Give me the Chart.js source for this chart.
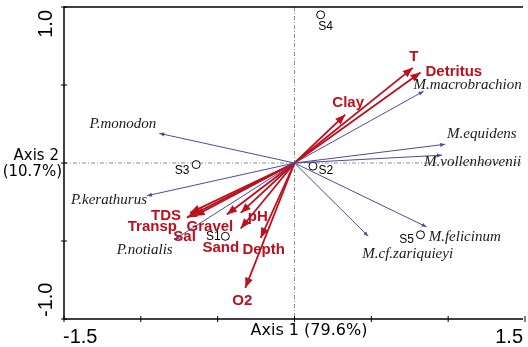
<!DOCTYPE html>
<html lang="en">
<head>
<meta charset="UTF-8">
<title>Ordination biplot</title>
<script src="https://cdn.jsdelivr.net/npm/chart.js"></script>
<style>
    body { margin: 0; background: #fff; }
    #wrap { width: 528px; height: 347px; }
</style>
</head>
<body>
<div id="wrap"><canvas id="biplot" width="528" height="347"></canvas></div>
<script>
// environmental variables (red arrows)
const envNames = ['T', 'Detritus', 'Clay', 'TDS', 'Transp', 'Sal', 'Gravel', 'pH', 'Sand', 'Depth', 'O2'];
const envX = [0.77, 0.82, 0.33, -0.68, -0.70, -0.65, -0.44, -0.35, -0.35, -0.22, -0.32];
const envY = [0.61, 0.58, 0.31, -0.32, -0.35, -0.34, -0.33, -0.32, -0.42, -0.48, -0.80];

// species (blue arrows)
const speciesNames = ['P.monodon', 'P.kerathurus', 'P.notialis', 'M.macrobrachion', 'M.equidens', 'M.vollenhovenii', 'M.felicinum', 'M.cf.zariquieyi'];
const speciesX = [-0.88, -0.96, -0.78, 0.84, 0.98, 0.96, 0.86, 0.48];
const speciesY = [0.19, -0.21, -0.49, 0.46, 0.12, 0.05, -0.41, -0.47];

// sampling sites
const siteNames = ['S4', 'S3', 'S2', 'S1', 'S5'];
const siteX = [0.17, -0.64, 0.12, -0.45, 0.82];
const siteY = [0.95, -0.01, -0.02, -0.47, -0.46];

// axes
const xTicks = [-1.5, -1.0, -0.5, 0, 0.5, 1.0, 1.5];
const yTicks = [-1.0, -0.5, 0, 0.5, 1.0];
const xTickLabels = ['-1.5', '1.5'];
const yTickLabels = ['1.0', '-1.0'];
const xTitle = 'Axis 1 (79.6%)';
const yTitle = ['Axis 2', '(10.7%)'];

// label placement: pixel offset from arrow tip / point, and text alignment
const envLabelPos = [[1, -11, 'center'], [5, -1, 'left'], [3, -12, 'center'], [-9, 3, 'right'],
    [-10, 9, 'right'], [-10, 21, 'center'], [-17, 12, 'center'], [7, 4, 'left'],
    [-20, 19, 'center'], [3, 12, 'center'], [-3, 13, 'center']];
const speciesLabelPos = [[-3, -9, 'right'], [0, 4, 'right'], [-2, 11, 'right'], [-10, -6, 'left'],
    [2, -10, 'left'], [-18, 7, 'left'], [2, 10, 'left'], [-6, 18, 'left']];
const siteLabelPos = [[5, 12], [-14, 6], [13, 5], [-12, 0], [-14, 5]];

const RED = '#bd0f1d';
const BLUE = '#4c4c98';

function arrowSet(names, xs, ys, color, width) {
    return names.map((n, i) => ({
        label: n,
        type: 'line',
        data: [{ x: 0, y: 0 }, { x: xs[i], y: ys[i] }],
        borderColor: color,
        borderWidth: width,
        pointRadius: 0,
        fill: false,
        arrowKind: color === RED ? 'env' : 'species'
    }));
}

const datasets = [
    ...arrowSet(speciesNames, speciesX, speciesY, BLUE, 1),
    ...arrowSet(envNames, envX, envY, RED, 1.8),
    {
        label: 'sites',
        data: siteX.map((x, i) => ({ x: x, y: siteY[i] })),
        pointStyle: 'circle',
        pointRadius: 4,
        pointBackgroundColor: '#fff',
        pointBorderColor: '#000',
        pointBorderWidth: 1,
        showLine: false
    }
];

function drawHead(ctx, x0, y0, x1, y1, len, half, color) {
    const a = Math.atan2(y1 - y0, x1 - x0);
    ctx.save();
    ctx.fillStyle = color;
    ctx.beginPath();
    ctx.moveTo(x1, y1);
    ctx.lineTo(x1 - len * Math.cos(a) + half * Math.sin(a), y1 - len * Math.sin(a) - half * Math.cos(a));
    ctx.lineTo(x1 - len * Math.cos(a) - half * Math.sin(a), y1 - len * Math.sin(a) + half * Math.cos(a));
    ctx.closePath();
    ctx.fill();
    ctx.restore();
}

const biplotDecor = {
    id: 'biplotDecor',
    beforeDatasetsDraw(chart) {
        const { ctx, chartArea: a, scales: { x, y } } = chart;
        const x0 = x.getPixelForValue(0), y0 = y.getPixelForValue(0);
        ctx.save();
        ctx.strokeStyle = '#8c8c8c';
        ctx.lineWidth = 1;
        ctx.setLineDash([4, 2, 1, 2]);
        ctx.beginPath();
        ctx.moveTo(x0, a.top); ctx.lineTo(x0, a.bottom);
        ctx.moveTo(a.left, y0); ctx.lineTo(a.right, y0);
        ctx.stroke();
        ctx.restore();
    },
    afterDatasetsDraw(chart) {
        const { ctx, chartArea: a, scales: { x, y } } = chart;
        const ox = x.getPixelForValue(0), oy = y.getPixelForValue(0);

        // arrowheads
        chart.data.datasets.forEach(ds => {
            if (!ds.arrowKind) return;
            const tx = x.getPixelForValue(ds.data[1].x), ty = y.getPixelForValue(ds.data[1].y);
            if (ds.arrowKind === 'env') drawHead(ctx, ox, oy, tx, ty, 10, 4, RED);
            else drawHead(ctx, ox, oy, tx, ty, 5, 2, BLUE);
        });

        ctx.save();
        ctx.textBaseline = 'middle';

        // species labels
        ctx.fillStyle = '#1a1a1a';
        ctx.font = 'italic 15px "Liberation Serif", "Times New Roman", serif';
        speciesNames.forEach((n, i) => {
            const p = speciesLabelPos[i];
            ctx.textAlign = p[2];
            ctx.fillText(n, x.getPixelForValue(speciesX[i]) + p[0], y.getPixelForValue(speciesY[i]) + p[1]);
        });

        // environment labels
        ctx.fillStyle = RED;
        ctx.font = 'bold 15px "Liberation Sans", Arial, sans-serif';
        envNames.forEach((n, i) => {
            const p = envLabelPos[i];
            ctx.textAlign = p[2];
            ctx.fillText(n, x.getPixelForValue(envX[i]) + p[0], y.getPixelForValue(envY[i]) + p[1]);
        });

        // site labels
        ctx.fillStyle = '#000';
        ctx.font = '12px "Liberation Sans", Arial, sans-serif';
        ctx.textAlign = 'center';
        siteNames.forEach((n, i) => {
            const p = siteLabelPos[i];
            ctx.fillText(n, x.getPixelForValue(siteX[i]) + p[0], y.getPixelForValue(siteY[i]) + p[1]);
        });

        // frame: left, bottom, top
        ctx.strokeStyle = '#000';
        ctx.lineWidth = 1.5;
        ctx.beginPath();
        ctx.moveTo(a.right, a.top); ctx.lineTo(a.left, a.top);
        ctx.lineTo(a.left, a.bottom); ctx.lineTo(a.right, a.bottom);
        ctx.stroke();

        // tick marks
        ctx.lineWidth = 1;
        ctx.beginPath();
        xTicks.forEach(v => {
            const px = x.getPixelForValue(v);
            ctx.moveTo(px, a.bottom - 3); ctx.lineTo(px, a.bottom + 3);
        });
        yTicks.forEach(v => {
            const py = y.getPixelForValue(v);
            ctx.moveTo(a.left - 3, py); ctx.lineTo(a.left + 3, py);
        });
        ctx.stroke();

        // tick labels
        ctx.fillStyle = '#000';
        ctx.font = '20px "Liberation Sans", Arial, sans-serif';
        ctx.textBaseline = 'middle';
        ctx.textAlign = 'left';
        ctx.fillText(xTickLabels[0], a.left - 1, a.bottom + 18);
        ctx.textAlign = 'right';
        ctx.fillText(xTickLabels[1], a.right, a.bottom + 18);

        ctx.save();
        ctx.translate(46, a.top + 3);
        ctx.rotate(-Math.PI / 2);
        ctx.textAlign = 'right';
        ctx.fillText(yTickLabels[0], 0, 0);
        ctx.restore();
        ctx.save();
        ctx.translate(46, a.bottom - 2);
        ctx.rotate(-Math.PI / 2);
        ctx.textAlign = 'left';
        ctx.fillText(yTickLabels[1], 0, 0);
        ctx.restore();

        // axis titles
        ctx.font = '16px "DejaVu Sans", Verdana, sans-serif';
        ctx.textAlign = 'center';
        ctx.fillText(xTitle, 309, a.bottom + 12);
        ctx.font = '15px "DejaVu Sans", Verdana, sans-serif';
        ctx.textAlign = 'right';
        ctx.fillText(yTitle[0], 59, oy - 7);
        ctx.fillText(yTitle[1], 62, oy + 9);

        ctx.restore();
    }
};

new Chart(document.getElementById('biplot'), {
    type: 'scatter',
    data: { datasets: datasets },
    options: {
        responsive: false,
        animation: false,
        layout: { padding: { left: 64, top: 7, right: 0, bottom: 28 } },
        plugins: { legend: { display: false }, tooltip: { enabled: false } },
        scales: {
            x: { type: 'linear', display: false, min: -1.5, max: 1.487 },
            y: { type: 'linear', display: false, min: -1.0, max: 1.0 }
        }
    },
    plugins: [biplotDecor]
});
</script>
</body>
</html>
